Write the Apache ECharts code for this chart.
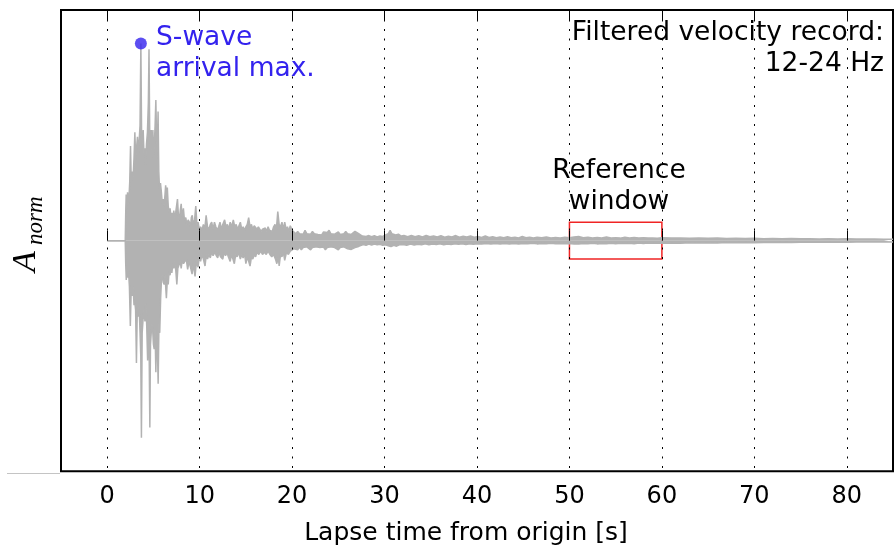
<!DOCTYPE html>
<html>
<head>
<meta charset="utf-8">
<script src="https://cdn.jsdelivr.net/npm/echarts@6/dist/echarts.min.js"></script>
<style>
html,body{margin:0;padding:0;background:#fff;}
#chart{width:896px;height:548px;}
</style>
</head>
<body>
<div id="chart"></div>
<script>
// ---- Data (time in s, normalized amplitude) ----
var xTickValues = [0, 10, 20, 30, 40, 50, 60, 70, 80];

// upper envelope of the filtered velocity trace: [time, amplitude]
var upperEnvelope = [
  [0, 0], [1.95, 0], [2.0, 0.12], [2.05, 0.2], [2.12, 0.14], [2.2, 0.21], [2.28, 0.16], [2.36, 0.19], [2.44, 0.26], [2.52, 0.41],
  [2.6, 0.25], [2.7, 0.3], [2.8, 0.27], [2.9, 0.36], [2.99, 0.47], [3.08, 0.35], [3.17, 0.4], [3.27, 0.45], [3.36, 0.38], [3.45, 0.43],
  [3.55, 0.5], [3.64, 0.855], [3.72, 0.45], [3.8, 0.42], [3.89, 0.48], [3.98, 0.37], [4.07, 0.4], [4.15, 0.33], [4.25, 0.42], [4.35, 0.47],
  [4.45, 0.6], [4.52, 0.83], [4.6, 0.45], [4.68, 0.4], [4.76, 0.48], [4.85, 0.38], [4.94, 0.48], [5.02, 0.36], [5.1, 0.42], [5.18, 0.5],
  [5.26, 0.61], [5.34, 0.44], [5.42, 0.4], [5.5, 0.56], [5.58, 0.3], [5.66, 0.22], [5.76, 0.25], [5.86, 0.21], [5.96, 0.16], [6.05, 0.18],
  [6.15, 0.15], [6.25, 0.2], [6.32, 0.24], [6.42, 0.19], [6.5, 0.23], [6.6, 0.15], [6.7, 0.12], [6.8, 0.14], [6.9, 0.1], [7.0, 0.12],
  [7.1, 0.09], [7.2, 0.13], [7.3, 0.1], [7.4, 0.12], [7.5, 0.15], [7.6, 0.18], [7.7, 0.11], [7.8, 0.09], [7.9, 0.13], [8.0, 0.16],
  [8.1, 0.1], [8.24, 0.14], [8.35, 0.09], [8.5, 0.1], [8.6, 0.07], [8.75, 0.09], [8.89, 0.08], [9.0, 0.06], [9.1, 0.1], [9.2, 0.11],
  [9.3, 0.07], [9.45, 0.09], [9.58, 0.15], [9.7, 0.07], [9.83, 0.08], [9.95, 0.05], [10.1, 0.06], [10.25, 0.045], [10.4, 0.07], [10.55, 0.05],
  [10.7, 0.11], [10.85, 0.06], [11.0, 0.05], [11.15, 0.07], [11.3, 0.08], [11.45, 0.05], [11.6, 0.08], [11.75, 0.06], [11.9, 0.045], [12.05, 0.06],
  [12.2, 0.08], [12.35, 0.05], [12.5, 0.07], [12.7, 0.09], [12.85, 0.06], [13.0, 0.07], [13.15, 0.05], [13.3, 0.08], [13.45, 0.06], [13.64, 0.09],
  [13.8, 0.06], [13.95, 0.07], [14.1, 0.05], [14.25, 0.065], [14.4, 0.08], [14.55, 0.05], [14.7, 0.06], [14.85, 0.045], [15.0, 0.06], [15.15, 0.07],
  [15.3, 0.1], [15.45, 0.06], [15.6, 0.07], [15.75, 0.05], [15.9, 0.065], [16.05, 0.07], [16.2, 0.05], [16.35, 0.06], [16.5, 0.055], [16.65, 0.04],
  [16.8, 0.05], [16.95, 0.045], [17.1, 0.055], [17.25, 0.04], [17.4, 0.06], [17.55, 0.045], [17.7, 0.05], [17.85, 0.04], [18.0, 0.06], [18.15, 0.07],
  [18.3, 0.05], [18.45, 0.126], [18.6, 0.07], [18.75, 0.06], [18.9, 0.08], [19.05, 0.05], [19.2, 0.08], [19.35, 0.05], [19.5, 0.06], [19.65, 0.04],
  [19.8, 0.065], [20.0, 0.045], [20.2, 0.04], [20.4, 0.03], [20.6, 0.04], [20.8, 0.03], [21.0, 0.038], [21.2, 0.028], [21.4, 0.045], [21.6, 0.03],
  [21.8, 0.035], [22.0, 0.028], [22.2, 0.04], [22.4, 0.03], [22.6, 0.038], [22.8, 0.027], [23.0, 0.032], [23.2, 0.025], [23.4, 0.038], [23.6, 0.03],
  [23.8, 0.035], [24.0, 0.045], [24.2, 0.03], [24.4, 0.035], [24.6, 0.028], [24.8, 0.033], [25.0, 0.038], [25.2, 0.027], [25.4, 0.033], [25.6, 0.03],
  [25.8, 0.04], [26.0, 0.03], [26.2, 0.036], [26.4, 0.027], [26.6, 0.033], [26.8, 0.04], [27.0, 0.048], [27.2, 0.03], [27.4, 0.025], [27.6, 0.02],
  [27.8, 0.024], [28.0, 0.018], [28.3, 0.022], [28.6, 0.017], [28.9, 0.021], [29.2, 0.016], [29.5, 0.02], [29.8, 0.018], [30.1, 0.025], [30.4, 0.03],
  [30.6, 0.045], [30.8, 0.03], [31.0, 0.036], [31.2, 0.025], [31.5, 0.028], [31.8, 0.02], [32.1, 0.022], [32.5, 0.017], [32.9, 0.022], [33.3, 0.017],
  [33.7, 0.021], [34.1, 0.016], [34.5, 0.023], [34.9, 0.017], [35.3, 0.02], [35.7, 0.016], [36.1, 0.021], [36.5, 0.015], [36.9, 0.019], [37.3, 0.016],
  [37.7, 0.022], [38.1, 0.015], [38.5, 0.019], [38.9, 0.016], [39.3, 0.02], [39.7, 0.015], [40.1, 0.018], [40.5, 0.014], [40.9, 0.02], [41.3, 0.014],
  [41.7, 0.017], [42.1, 0.013], [42.5, 0.016], [42.9, 0.013], [43.3, 0.017], [43.7, 0.013], [44.1, 0.015], [44.5, 0.012], [44.9, 0.018], [45.3, 0.013],
  [45.7, 0.015], [46.1, 0.012], [46.5, 0.015], [47.0, 0.013], [47.5, 0.016], [48.0, 0.012], [48.5, 0.014], [49.0, 0.012], [49.5, 0.015], [50.0, 0.013],
  [50.5, 0.016], [51.0, 0.018], [51.5, 0.013], [52.0, 0.015], [52.5, 0.012], [53.0, 0.014], [53.5, 0.012], [54.0, 0.016], [54.5, 0.012], [55.0, 0.013],
  [55.5, 0.011], [56.0, 0.015], [56.5, 0.012], [57.0, 0.014], [57.5, 0.011], [58.0, 0.013], [58.5, 0.011], [59.0, 0.012], [59.5, 0.01], [60.0, 0.013],
  [61, 0.011], [62, 0.012], [63, 0.01], [64, 0.011], [65, 0.01], [66, 0.011], [67, 0.009], [68, 0.01], [69, 0.009], [70, 0.01],
  [71, 0.008], [72, 0.009], [73, 0.008], [74, 0.009], [75, 0.008], [76, 0.008], [77, 0.007], [78, 0.008], [79, 0.007], [80, 0.008],
  [81, 0.007], [82, 0.007], [83, 0.007], [84, 0.006], [85, 0.006]
];

// lower envelope of the filtered velocity trace: [time, amplitude]
var lowerEnvelope = [
  [0, 0], [1.95, 0], [2.0, -0.1], [2.06, -0.17], [2.14, -0.12], [2.22, -0.16], [2.3, -0.13], [2.4, -0.2], [2.5, -0.37], [2.6, -0.2],
  [2.7, -0.24], [2.8, -0.2], [2.9, -0.28], [2.97, -0.26], [3.07, -0.3], [3.16, -0.53], [3.25, -0.3], [3.35, -0.33], [3.45, -0.28], [3.55, -0.4],
  [3.63, -0.5], [3.7, -0.855], [3.78, -0.4], [3.88, -0.34], [3.98, -0.3], [4.08, -0.35], [4.18, -0.27], [4.28, -0.38], [4.37, -0.52], [4.46, -0.4],
  [4.54, -0.5], [4.61, -0.81], [4.68, -0.45], [4.76, -0.4], [4.84, -0.36], [4.92, -0.39], [5.0, -0.45], [5.08, -0.47], [5.17, -0.38], [5.26, -0.57],
  [5.34, -0.42], [5.42, -0.45], [5.51, -0.62], [5.6, -0.35], [5.68, -0.4], [5.78, -0.25], [5.88, -0.16], [5.97, -0.15], [6.06, -0.18], [6.16, -0.19],
  [6.26, -0.15], [6.34, -0.21], [6.4, -0.25], [6.5, -0.17], [6.6, -0.19], [6.7, -0.13], [6.8, -0.15], [6.9, -0.11], [6.99, -0.14], [7.1, -0.1],
  [7.2, -0.12], [7.3, -0.09], [7.42, -0.13], [7.53, -0.19], [7.64, -0.12], [7.78, -0.12], [7.9, -0.09], [8.0, -0.12], [8.12, -0.08], [8.25, -0.1],
  [8.42, -0.1], [8.55, -0.08], [8.7, -0.125], [8.85, -0.09], [9.0, -0.115], [9.18, -0.145], [9.3, -0.1], [9.5, -0.155], [9.65, -0.09], [9.83, -0.115],
  [9.95, -0.07], [10.1, -0.09], [10.25, -0.06], [10.4, -0.08], [10.58, -0.11], [10.72, -0.06], [10.85, -0.08], [11.0, -0.06], [11.15, -0.075], [11.3, -0.05],
  [11.45, -0.065], [11.66, -0.05], [11.8, -0.065], [11.95, -0.075], [12.1, -0.05], [12.25, -0.07], [12.5, -0.08], [12.65, -0.05], [12.8, -0.065], [12.95, -0.05],
  [13.1, -0.07], [13.3, -0.09], [13.45, -0.06], [13.6, -0.08], [13.75, -0.1], [13.9, -0.06], [14.05, -0.07], [14.2, -0.05], [14.4, -0.08], [14.55, -0.06],
  [14.7, -0.075], [14.85, -0.055], [15.0, -0.1], [15.15, -0.07], [15.3, -0.09], [15.45, -0.11], [15.6, -0.07], [15.75, -0.08], [15.9, -0.06], [16.05, -0.07],
  [16.2, -0.05], [16.4, -0.06], [16.6, -0.045], [16.8, -0.06], [17.0, -0.05], [17.2, -0.06], [17.4, -0.045], [17.6, -0.06], [17.8, -0.07], [18.0, -0.06],
  [18.2, -0.08], [18.35, -0.1], [18.5, -0.07], [18.6, -0.11], [18.75, -0.06], [18.9, -0.07], [19.05, -0.05], [19.2, -0.085], [19.4, -0.05], [19.6, -0.06],
  [19.8, -0.045], [20.0, -0.05], [20.2, -0.035], [20.4, -0.03], [20.6, -0.04], [20.8, -0.028], [21.0, -0.04], [21.2, -0.03], [21.4, -0.036], [21.6, -0.027],
  [21.8, -0.033], [22.0, -0.04], [22.2, -0.03], [22.4, -0.035], [22.6, -0.027], [22.8, -0.032], [23.0, -0.03], [23.2, -0.036], [23.4, -0.028], [23.6, -0.04],
  [23.8, -0.03], [24.0, -0.033], [24.2, -0.027], [24.4, -0.035], [24.6, -0.03], [24.8, -0.036], [25.0, -0.04], [25.2, -0.03], [25.4, -0.034], [25.6, -0.027],
  [25.8, -0.033], [26.0, -0.035], [26.2, -0.028], [26.4, -0.038], [26.6, -0.04], [26.8, -0.03], [27.0, -0.033], [27.2, -0.025], [27.4, -0.02], [27.7, -0.017],
  [28.0, -0.02], [28.3, -0.015], [28.6, -0.019], [28.9, -0.015], [29.2, -0.018], [29.5, -0.016], [29.8, -0.02], [30.1, -0.018], [30.4, -0.022], [30.7, -0.026],
  [31.0, -0.02], [31.3, -0.024], [31.6, -0.018], [32.0, -0.017], [32.4, -0.02], [32.8, -0.015], [33.2, -0.019], [33.6, -0.016], [34.0, -0.018], [34.4, -0.014],
  [34.8, -0.018], [35.2, -0.015], [35.6, -0.017], [36.0, -0.014], [36.4, -0.018], [36.8, -0.015], [37.2, -0.017], [37.6, -0.014], [38.0, -0.016], [38.4, -0.013],
  [38.8, -0.017], [39.2, -0.014], [39.6, -0.016], [40.0, -0.013], [40.5, -0.015], [41.0, -0.012], [41.5, -0.015], [42.0, -0.012], [42.5, -0.014], [43.0, -0.012],
  [43.5, -0.014], [44.0, -0.012], [44.5, -0.015], [45.0, -0.012], [45.5, -0.013], [46.0, -0.011], [46.5, -0.014], [47.0, -0.012], [47.5, -0.013], [48.0, -0.011],
  [48.5, -0.013], [49.0, -0.012], [49.5, -0.013], [50.0, -0.012], [50.5, -0.014], [51.0, -0.015], [51.5, -0.012], [52.0, -0.013], [52.5, -0.011], [53.0, -0.014],
  [53.5, -0.012], [54.0, -0.013], [54.5, -0.011], [55.0, -0.013], [55.5, -0.011], [56.0, -0.012], [56.5, -0.011], [57.0, -0.013], [57.5, -0.01], [58.0, -0.012],
  [58.5, -0.01], [59.0, -0.011], [59.5, -0.01], [60.0, -0.011],
  [61, -0.01], [62, -0.011], [63, -0.009], [64, -0.01], [65, -0.009], [66, -0.01], [67, -0.008], [68, -0.009], [69, -0.008], [70, -0.009],
  [71, -0.008], [72, -0.008], [73, -0.007], [74, -0.008], [75, -0.007], [76, -0.007], [77, -0.007], [78, -0.007], [79, -0.006], [80, -0.007],
  [81, -0.006], [82, -0.006], [83, -0.006], [84, -0.006], [85, -0.006]
];

// S-wave arrival maximum
var sWaveMax = [3.64, 0.855];
// Reference window: time span and amplitude span of the box
var refWindowT = [50, 60];
var refWindowA = [-0.08, 0.08];

var xRange = [-5, 85];
var yRange = [-1, 1];

var traceColor = '#b2b2b2';

var chart = echarts.init(document.getElementById('chart'), null, {renderer: 'canvas'});
var FONT = '"DejaVu Sans", sans-serif';

var option = {
  animation: false,
  backgroundColor: '#fff',
  grid: {left: 61, right: 2.5, top: 10, bottom: 76.7, show: true, borderColor: '#000', borderWidth: 2, backgroundColor: 'transparent'},
  xAxis: [{
    type: 'value', min: xRange[0], max: xRange[1], splitNumber: 9, position: 'bottom', z: 10,
    axisLine: {show: false},
    axisTick: {show: true, inside: true, length: 10, lineStyle: {color: '#000', width: 1}},
    axisLabel: {show: true, color: '#000', fontFamily: FONT, fontSize: 24, margin: 13,
      formatter: function (v) { return xTickValues.indexOf(v) >= 0 ? String(v) : ''; }},
    splitLine: {show: true, lineStyle: {color: '#000', width: 1, type: [2, 7.5]}}
  }, {
    type: 'value', min: xRange[0], max: xRange[1], splitNumber: 9, position: 'top', z: 10,
    axisLine: {show: false},
    axisTick: {show: true, inside: true, length: 10, lineStyle: {color: '#000', width: 1}},
    axisLabel: {show: false},
    splitLine: {show: false}
  }],
  yAxis: {
    type: 'value', min: yRange[0], max: yRange[1],
    axisLine: {show: false}, axisTick: {show: false}, axisLabel: {show: false}, splitLine: {show: false}
  },
  series: [{
    type: 'line', name: 'upper', data: upperEnvelope, showSymbol: false, symbol: 'none', sampling: null,
    lineStyle: {color: traceColor, width: 1.5}, areaStyle: {color: traceColor, opacity: 1, origin: 0},
    z: 3, silent: true
  }, {
    type: 'line', name: 'lower', data: lowerEnvelope, showSymbol: false, symbol: 'none', sampling: null,
    lineStyle: {color: traceColor, width: 1.5}, areaStyle: {color: traceColor, opacity: 1, origin: 0},
    z: 3, silent: true,
    markArea: {
      silent: true,
      itemStyle: {color: 'rgba(0,0,0,0)', borderColor: '#f02424', borderWidth: 1.5},
      data: [[{coord: [refWindowT[0], refWindowA[1]]}, {coord: [refWindowT[1], refWindowA[0]]}]]
    }
  }, {
    type: 'scatter', data: [sWaveMax], symbol: 'circle', symbolSize: 12,
    itemStyle: {color: '#3322ee'}, z: 12, silent: true
  }],
  graphic: [
    {type: 'text', x: 156, y: 22.5, z: 20, style: {text: 'S-wave\narrival max.', font: '26.5px ' + FONT, fill: '#3322ee', lineHeight: 31, textAlign: 'left', textVerticalAlign: 'top'}},
    {type: 'text', x: 884, y: 17, z: 20, style: {text: 'Filtered velocity record:\n12-24 Hz', font: '26.5px ' + FONT, fill: '#000', lineHeight: 31.5, textAlign: 'right', textVerticalAlign: 'top'}},
    {type: 'text', x: 619, y: 155, z: 20, style: {text: 'Reference\nwindow', font: '26.5px ' + FONT, fill: '#000', lineHeight: 31.5, textAlign: 'center', textVerticalAlign: 'top'}},
    {type: 'text', x: 466, y: 520.5, z: 20, style: {text: 'Lapse time from origin [s]', font: '25px ' + FONT, fill: '#000', lineHeight: 25, textAlign: 'center', textVerticalAlign: 'top'}},
    {type: 'text', x: 26, y: 272, rotation: Math.PI / 2, z: 20, style: {text: 'A', font: 'italic 34px "Liberation Serif", serif', fill: '#000', textAlign: 'left', textVerticalAlign: 'middle'}},
    {type: 'text', x: 35.5, y: 245, rotation: Math.PI / 2, z: 20, style: {text: 'norm', font: 'italic 23px "Liberation Serif", serif', fill: '#000', textAlign: 'left', textVerticalAlign: 'middle'}},
    {type: 'line', z: 20, shape: {x1: 7, y1: 473.5, x2: 60, y2: 473.5}, style: {stroke: '#c4c4c4', lineWidth: 1}}
  ]
};
chart.setOption(option);
</script>
</body>
</html>
